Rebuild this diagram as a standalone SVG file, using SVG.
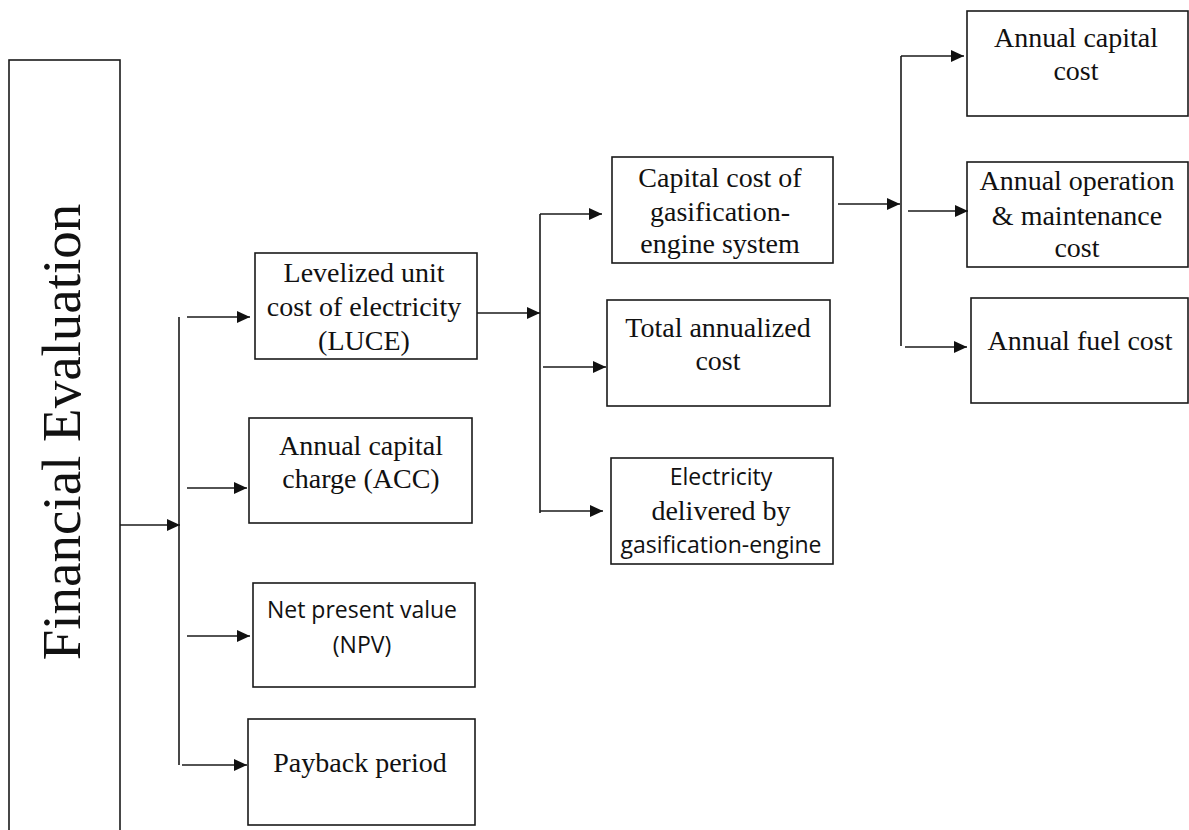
<svg xmlns="http://www.w3.org/2000/svg" width="1189" height="830" viewBox="0 0 1189 830">
  <style>
    .box { fill: #ffffff; stroke: #1a1a1a; stroke-width: 1.6; }
    .link { fill: none; stroke: #1a1a1a; stroke-width: 1.6; }
    .serif { font-family: 'Liberation Serif', 'DejaVu Serif', serif; font-size: 28px; fill: #111; text-anchor: middle; }
    .sans { font-family: 'Open Sans', 'Liberation Sans', sans-serif; font-size: 23px; fill: #111; text-anchor: middle; }
    .title { font-family: 'Liberation Serif', 'DejaVu Serif', serif; font-size: 55px; fill: #111; text-anchor: middle; }
  </style>
  <defs>
    <marker id="arrow" markerUnits="userSpaceOnUse" markerWidth="14" markerHeight="12" refX="13" refY="6" orient="auto">
      <path d="M0,0 L13,6 L0,12 Z" fill="#111"/>
    </marker>
  </defs>
  <rect width="1189" height="830" fill="#ffffff"/>

  <!-- root -->
  <g id="financial-evaluation">
    <rect class="box" x="9" y="60" width="111" height="800"/>
    <text class="title" transform="translate(80 432) rotate(-90)">Financial Evaluation</text>
  </g>

  <!-- first level -->
  <g id="luce">
    <rect class="box" x="255" y="253" width="222" height="106"/>
    <text class="serif" x="364" y="282">Levelized unit</text>
    <text class="serif" x="364" y="316">cost of electricity</text>
    <text class="serif" x="364" y="350">(LUCE)</text>
  </g>
  <g id="acc">
    <rect class="box" x="249" y="418" width="223" height="105"/>
    <text class="serif" x="361" y="455">Annual capital</text>
    <text class="serif" x="361" y="488">charge (ACC)</text>
  </g>
  <g id="npv">
    <rect class="box" x="253" y="583" width="222" height="104"/>
    <text class="sans" x="362" y="618">Net present value</text>
    <text class="sans" x="362" y="653">(NPV)</text>
  </g>
  <g id="payback">
    <rect class="box" x="248" y="719" width="227" height="106"/>
    <text class="serif" x="360" y="772">Payback period</text>
  </g>

  <!-- second level -->
  <g id="capital-cost">
    <rect class="box" x="612" y="157" width="221" height="106"/>
    <text class="serif" x="720" y="187">Capital cost of</text>
    <text class="serif" x="720" y="221">gasification-</text>
    <text class="serif" x="720" y="253">engine system</text>
  </g>
  <g id="total-annualized">
    <rect class="box" x="607" y="300" width="223" height="106"/>
    <text class="serif" x="718" y="337">Total annualized</text>
    <text class="serif" x="718" y="370">cost</text>
  </g>
  <g id="electricity">
    <rect class="box" x="611" y="458" width="222" height="106"/>
    <text class="sans" x="721" y="485">Electricity</text>
    <text class="serif" x="721" y="520">delivered by</text>
    <text class="sans" x="721" y="553">gasification-engine</text>
  </g>

  <!-- third level -->
  <g id="annual-capital-cost">
    <rect class="box" x="967" y="11" width="221" height="105"/>
    <text class="serif" x="1076" y="47">Annual capital</text>
    <text class="serif" x="1076" y="80">cost</text>
  </g>
  <g id="annual-om-cost">
    <rect class="box" x="967" y="162" width="221" height="105"/>
    <text class="serif" x="1077" y="190">Annual operation</text>
    <text class="serif" x="1077" y="225">&amp; maintenance</text>
    <text class="serif" x="1077" y="257">cost</text>
  </g>
  <g id="annual-fuel-cost">
    <rect class="box" x="971" y="298" width="217" height="105"/>
    <text class="serif" x="1080" y="350">Annual fuel cost</text>
  </g>

  <!-- connectors -->
  <g id="connectors">
    <line class="link" x1="120" y1="525" x2="180" y2="525" marker-end="url(#arrow)"/>
    <line class="link" x1="179" y1="317" x2="179" y2="765"/>
    <line class="link" x1="187" y1="317" x2="250" y2="317" marker-end="url(#arrow)"/>
    <line class="link" x1="187" y1="488" x2="247" y2="488" marker-end="url(#arrow)"/>
    <line class="link" x1="187" y1="636" x2="250" y2="636" marker-end="url(#arrow)"/>
    <line class="link" x1="182" y1="765" x2="247" y2="765" marker-end="url(#arrow)"/>

    <line class="link" x1="477" y1="313" x2="540" y2="313" marker-end="url(#arrow)"/>
    <line class="link" x1="540" y1="214" x2="540" y2="513"/>
    <line class="link" x1="540" y1="214" x2="602" y2="214" marker-end="url(#arrow)"/>
    <line class="link" x1="543" y1="367" x2="606" y2="367" marker-end="url(#arrow)"/>
    <line class="link" x1="540" y1="511" x2="603" y2="511" marker-end="url(#arrow)"/>

    <line class="link" x1="838" y1="204" x2="900" y2="204" marker-end="url(#arrow)"/>
    <line class="link" x1="901" y1="56" x2="901" y2="346"/>
    <line class="link" x1="901" y1="56" x2="964" y2="56" marker-end="url(#arrow)"/>
    <line class="link" x1="908" y1="211" x2="968" y2="211" marker-end="url(#arrow)"/>
    <line class="link" x1="905" y1="347" x2="967" y2="347" marker-end="url(#arrow)"/>
  </g>
</svg>
